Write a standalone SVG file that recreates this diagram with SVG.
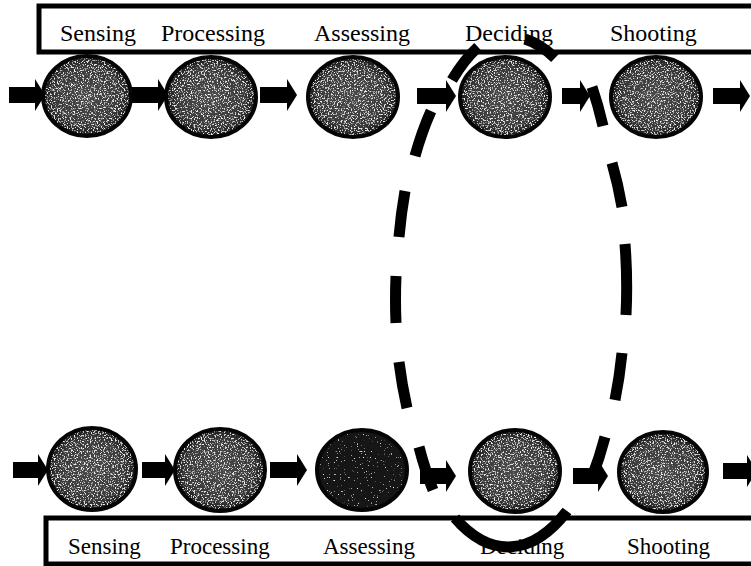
<svg xmlns="http://www.w3.org/2000/svg" width="751" height="566" viewBox="0 0 751 566">
<style>
.box{fill:#fff;stroke:#000;stroke-width:5}
.lbl{font-family:"Liberation Serif","Times New Roman",serif;fill:#000}
.t{font-size:24px}
.b{font-size:23px}
.disc{fill:url(#shade)}
.dark{fill:#141414}
.rim{fill:none;stroke:#050505;stroke-width:4}
.arr{fill:#000}
.dash{fill:none;stroke:#000;stroke-width:11;stroke-linecap:butt}
</style>
<defs>
<radialGradient id="shade" cx="50%" cy="50%" r="50%">
<stop offset="0" stop-color="#4a4a4a"/>
<stop offset="0.75" stop-color="#3a3a3a"/>
<stop offset="1" stop-color="#1a1a1a"/>
</radialGradient>
<filter id="grain" x="-5%" y="-5%" width="110%" height="110%">
<feTurbulence type="fractalNoise" baseFrequency="0.7" numOctaves="2" seed="7" result="noise"/>
<feColorMatrix in="noise" type="matrix" values="0 0 0 0 0.88  0 0 0 0 0.88  0 0 0 0 0.88  6 0 0 0 -3.25" result="specks"/>
<feComposite in="specks" in2="SourceGraphic" operator="in" result="clip"/>
<feMerge><feMergeNode in="SourceGraphic"/><feMergeNode in="clip"/></feMerge>
</filter>
<filter id="grainSparse" x="-5%" y="-5%" width="110%" height="110%">
<feTurbulence type="fractalNoise" baseFrequency="0.7" numOctaves="2" seed="11" result="noise"/>
<feColorMatrix in="noise" type="matrix" values="0 0 0 0 0.8  0 0 0 0 0.8  0 0 0 0 0.8  8 0 0 0 -5.6" result="specks"/>
<feComposite in="specks" in2="SourceGraphic" operator="in" result="clip"/>
<feMerge><feMergeNode in="SourceGraphic"/><feMergeNode in="clip"/></feMerge>
</filter>
</defs>
<rect width="751" height="566" fill="#fff"/>

<g id="top-labels">
<rect class="box" x="39" y="6" width="730" height="46"/>
<text class="lbl t" x="60" y="41">Sensing</text>
<text class="lbl t" x="161" y="41">Processing</text>
<text class="lbl t" x="314" y="41">Assessing</text>
<text class="lbl t" x="465" y="41">Deciding</text>
<text class="lbl t" x="610" y="41">Shooting</text>
</g>

<g id="bottom-labels">
<rect class="box" x="46" y="518" width="730" height="46"/>
<text class="lbl b" x="68" y="554">Sensing</text>
<text class="lbl b" x="170" y="554">Processing</text>
<text class="lbl b" x="323" y="554">Assessing</text>
<text class="lbl b" x="480" y="554">Deciding</text>
<text class="lbl b" x="627" y="554">Shooting</text>
</g>

<g id="node-top-sensing"><ellipse class="disc" filter="url(#grain)" cx="87" cy="96" rx="44" ry="40"/><ellipse class="rim" cx="87" cy="96" rx="44" ry="40"/></g>
<g id="node-top-processing"><ellipse class="disc" filter="url(#grain)" cx="211" cy="97" rx="45" ry="40"/><ellipse class="rim" cx="211" cy="97" rx="45" ry="40"/></g>
<g id="node-top-assessing"><ellipse class="disc" filter="url(#grain)" cx="353" cy="97" rx="45" ry="40"/><ellipse class="rim" cx="353" cy="97" rx="45" ry="40"/></g>
<g id="node-top-deciding"><ellipse class="disc" filter="url(#grain)" cx="505" cy="97" rx="45" ry="40"/><ellipse class="rim" cx="505" cy="97" rx="45" ry="40"/></g>
<g id="node-top-shooting"><ellipse class="disc" filter="url(#grain)" cx="656" cy="97" rx="45" ry="40"/><ellipse class="rim" cx="656" cy="97" rx="45" ry="40"/></g>

<g id="node-bottom-sensing"><ellipse class="disc" filter="url(#grain)" cx="92" cy="469" rx="44" ry="41"/><ellipse class="rim" cx="92" cy="469" rx="44" ry="41"/></g>
<g id="node-bottom-processing"><ellipse class="disc" filter="url(#grain)" cx="220" cy="470" rx="45" ry="41"/><ellipse class="rim" cx="220" cy="470" rx="45" ry="41"/></g>
<g id="node-bottom-assessing"><ellipse class="dark" filter="url(#grainSparse)" cx="362" cy="470" rx="45" ry="40"/><ellipse class="rim" cx="362" cy="470" rx="45" ry="40"/></g>
<g id="node-bottom-deciding"><ellipse class="disc" filter="url(#grain)" cx="515" cy="471" rx="45" ry="41"/><ellipse class="rim" cx="515" cy="471" rx="45" ry="41"/></g>
<g id="node-bottom-shooting"><ellipse class="disc" filter="url(#grain)" cx="663" cy="472" rx="44" ry="40"/><ellipse class="rim" cx="663" cy="472" rx="44" ry="40"/></g>

<g id="connectors">
<polygon class="arr" points="9,87 35,87 35,79 45,95 35,111 35,103 9,103"/>
<polygon class="arr" points="132,87 158,87 158,79 168,95 158,111 158,103 132,103"/>
<polygon class="arr" points="260,87 287,87 287,79 297,95 287,111 287,103 260,103"/>
<polygon class="arr" points="417,88 446,88 446,80 456,96 446,112 446,104 417,104"/>
<polygon class="arr" points="562,88 580,88 580,80 590,96 580,112 580,104 562,104"/>
<polygon class="arr" points="713,88 740,88 740,80 750,96 740,112 740,104 713,104"/>

<polygon class="arr" points="13,462 38,462 38,454 48,470 38,486 38,478 13,478"/>
<polygon class="arr" points="142,462 165,462 165,454 175,470 165,486 165,478 142,478"/>
<polygon class="arr" points="270,462 297,462 297,454 307,470 297,486 297,478 270,478"/>
<polygon class="arr" points="420,468 446,468 446,460 456,476 446,492 446,484 420,484"/>
<polygon class="arr" points="573,468 598,468 598,460 608,476 598,492 598,484 573,484"/>
<polygon class="arr" points="723,463 747,463 747,455 757,471 747,487 747,479 723,479"/>

<path id="loop" class="dash" d="M 433 490 A 115 255 0 0 1 419 447
M 407 408 A 115 255 0 0 1 399 362
M 396 323 A 115 255 0 0 1 396 276
M 399 237 A 115 255 0 0 1 405 191
M 415 156 A 115 255 0 0 1 431 111
M 452 80 A 115 255 0 0 1 478 47
M 525 39 A 115 255 0 0 1 555 58
M 592 87 A 115 255 0 0 1 603 126
M 612 163 A 115 255 0 0 1 622 207
M 625 244 A 115 255 0 0 1 626 315
M 622 353 A 115 255 0 0 1 615 400
M 605 437 A 115 255 0 0 1 592 477
M 567 511 A 115 255 0 0 1 455 518"/>
</g>
</svg>
